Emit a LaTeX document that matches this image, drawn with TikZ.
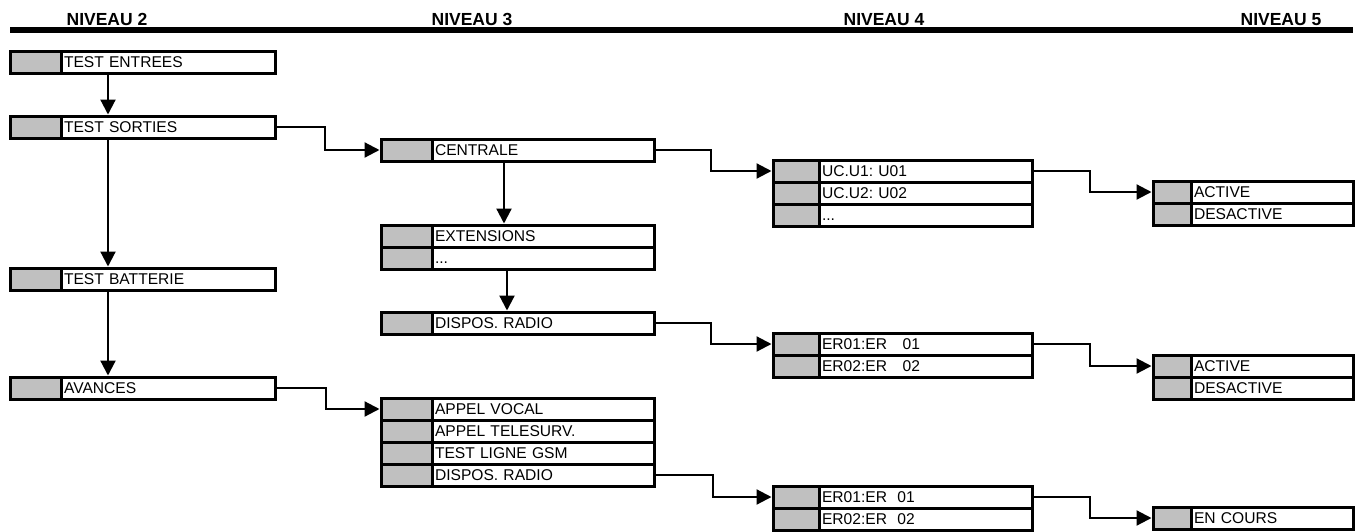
\documentclass[tikz,border=0pt]{standalone}
\usepackage{fontspec}
\setmainfont{Liberation Sans}
\usetikzlibrary{arrows.meta,positioning}
\definecolor{KeyGrey}{HTML}{C0C0C0}
\frenchspacing

\begin{document}
\begin{tikzpicture}[x=1pt, y=-1pt,
  keycol/.style={path picture={
    \fill[KeyGrey] (path picture bounding box.north west) rectangle
      ([xshift=#1]path picture bounding box.south west);
    \draw[line width=3pt] ([xshift=#1]path picture bounding box.north west)
      -- ([xshift=#1]path picture bounding box.south west);}},
  entry/.style={draw, line width=3pt, fill=white, outer sep=0pt, inner sep=0pt,
    minimum height=22pt, text height=11.3pt, text depth=0pt, align=left,
    anchor=north west, font=\fontsize{15.6}{18}\selectfont},
  lvtwo/.style={entry, keycol=51pt, minimum width=265pt, text width=157pt},
  lvthree/.style={entry, keycol=51pt, minimum width=273pt, text width=165pt},
  lvfour/.style={entry, keycol=46pt, minimum width=259pt, text width=161pt},
  lvfive/.style={entry, keycol=38pt, minimum width=200pt, text width=118pt},
  head/.style={anchor=base, font=\bfseries\fontsize{17.5}{20}\selectfont},
  rule/.style={line width=5.5pt},
  arrow/.style={-{Triangle[length=15pt, width=15pt]}, line width=2.2pt, shorten >=1.5pt}
]
\useasboundingbox (0,0) rectangle (1358,531);

\node[head] (hdtwo) at (107,25) {NIVEAU 2};
\node[head] (hdthree) at (472,25) {NIVEAU 3};
\node[head] (hdfour) at (884,25) {NIVEAU 4};
\node[head] (hdfive) at (1281,25) {NIVEAU 5};
\draw[rule] (10,30) -- (1353,30);

\node[lvtwo] (entrees) at (10,51) {TEST ENTREES};
\node[lvtwo] (sorties) at (10,116) {TEST SORTIES};
\node[lvtwo] (batterie) at (10,268) {TEST BATTERIE};
\node[lvtwo] (avances) at (10,377) {AVANCES};

\node[lvthree] (centrale) at (381,139) {CENTRALE};
\node[lvthree] (extens) at (381,225) {EXTENSIONS};
\node[lvthree, below=0pt of extens] (extmore) {...};
\node[lvthree] (radio) at (381,312) {DISPOS. RADIO};
\node[lvthree] (vocal) at (381,398) {APPEL VOCAL};
\node[lvthree, below=0pt of vocal] (telesurv) {APPEL TELESURV.};
\node[lvthree, below=0pt of telesurv] (gsm) {TEST LIGNE GSM};
\node[lvthree, below=0pt of gsm] (radiotwo) {DISPOS. RADIO};

\node[lvfour] (ucone) at (773,160) {UC.U1: U01};
\node[lvfour, below=0pt of ucone] (uctwo) {UC.U2: U02};
\node[lvfour, below=0pt of uctwo] (ucmore) {...};
\node[lvfour] (erone) at (773,333) {ER01:ER\ \ \ 01};
\node[lvfour, below=0pt of erone] (ertwo) {ER02:ER\ \ \ 02};
\node[lvfour] (erthree) at (773,486) {ER01:ER\ \ 01};
\node[lvfour, below=0pt of erthree] (erfour) {ER02:ER\ \ 02};

\node[lvfive] (actone) at (1153,181) {ACTIVE};
\node[lvfive, below=0pt of actone] (desone) {DESACTIVE};
\node[lvfive] (acttwo) at (1153,355) {ACTIVE};
\node[lvfive, below=0pt of acttwo] (destwo) {DESACTIVE};
\node[lvfive] (encours) at (1153,507) {EN COURS};

\draw[arrow] ([xshift=98]entrees.south west) -- ([xshift=98]sorties.north west);
\draw[arrow] ([xshift=98]sorties.south west) -- ([xshift=98]batterie.north west);
\draw[arrow] ([xshift=98]batterie.south west) -- ([xshift=98]avances.north west);
\draw[arrow] ([xshift=123]centrale.south west) -- ([xshift=123]extens.north west);
\draw[arrow] ([xshift=126]extmore.south west) -- ([xshift=126]radio.north west);

\draw[arrow] (sorties.east) -- ++(50,0) |- (centrale.west);
\draw[arrow] (avances.east) -- ++(51,0) |- (vocal.west);
\draw[arrow] (centrale.east) -- ++(57,0) |- (ucone.west);
\draw[arrow] (radio.east) -- ++(57,0) |- (erone.west);
\draw[arrow] (radiotwo.east) -- ++(59,0) |- (erthree.west);
\draw[arrow] (ucone.east) -- ++(58,0) |- (actone.west);
\draw[arrow] (erone.east) -- ++(58,0) |- (acttwo.west);
\draw[arrow] (erthree.east) -- ++(58,0) |- (encours.west);
\end{tikzpicture}
\end{document}
